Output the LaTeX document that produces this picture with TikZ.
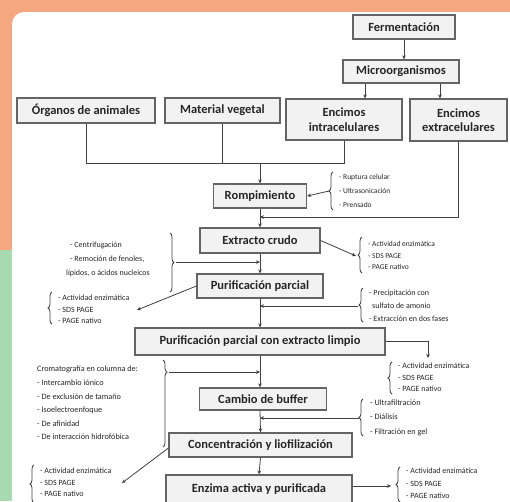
\documentclass[tikz,border=0pt]{standalone}
\usepackage{fontspec}
\setmainfont{Carlito}
\usetikzlibrary{arrows.meta,decorations.pathreplacing,calc}
\definecolor{bgor}{RGB}{245,168,128}
\definecolor{bggr}{RGB}{168,218,178}
\definecolor{boxfill}{RGB}{242,242,242}
\definecolor{boxline}{RGB}{100,100,100}
\definecolor{lnc}{RGB}{64,64,64}
\definecolor{txt}{RGB}{38,38,38}
\newcommand\bx[6]{\node[box,minimum width=#4pt,minimum height=#5pt] (#1) at (#2,#3) {#6};}
\begin{document}
\begin{tikzpicture}[x=1pt,y=-1pt,
 box/.style={draw=boxline, fill=boxfill, line width=1.2pt, font=\fontsize{12.5}{14.5}\selectfont\bfseries, text=txt, align=center, inner sep=1pt},
 arr/.style={draw=lnc, line width=0.8pt, -{Stealth[length=4pt,width=3.6pt]}},
 lnk/.style={draw=lnc, line width=0.8pt},
 brc/.style={draw=lnc, line width=0.8pt, decorate, decoration={brace, amplitude=4pt}},
 lst/.style={anchor=west, align=left, inner sep=0pt, text=txt}]
\useasboundingbox (0,0) rectangle (510,501);
\clip (0,0) rectangle (510,501);
\fill[bgor] (0,0) rectangle (510,250);
\fill[bggr] (0,250) rectangle (510,501);
\fill[white, rounded corners=12pt] (12,12) rectangle (530,540);

% boxes
\bx{ferm}{404}{27}{102}{24}{Fermentación}
\bx{micro}{401}{71.5}{116}{23}{Microorganismos}
\bx{organos}{86}{110.5}{138}{25}{Órganos de animales}
\bx{vegetal}{222.5}{110.5}{115}{25}{Material vegetal}
\bx{intra}{344}{119.5}{116}{41}{Encimos\\intracelulares}
\bx{extra}{458.5}{120}{97}{42}{Encimos\\extracelulares}
\bx{romp}{260}{196}{93}{24}{Rompimiento}
\bx{crudo}{260}{240.5}{120}{25}{Extracto crudo}
\bx{parcial}{260}{286}{126}{24}{Purificación parcial}
\bx{limpio}{260}{341.5}{250}{27}{Purificación parcial con extracto limpio}
\bx{buffer}{263}{399}{127}{22}{Cambio de buffer}
\bx{conc}{260.5}{445}{183}{24}{Concentración y liofilización}
\bx{enzima}{259}{489}{186}{28}{Enzima activa y purificada}

% top connectors
\draw[arr] (ferm.south) -- (ferm.south |- micro.north);
\draw[arr] ([xshift=-36pt]micro.south) -- ([xshift=21pt]intra.north);
\draw[arr] ([xshift=39pt]micro.south) -- ([xshift=-18.5pt]extra.north);
\coordinate (j1) at (260,163);
\draw[lnk] (organos.south) |- (intra.south |- j1) -- (intra.south);
\draw[lnk] (vegetal.south) -- (vegetal.south |- j1);
\draw[arr] (j1) -- (romp.north);
\coordinate (j2) at (260,217);
\draw[arr] (extra.south) |- (j2);
\draw[arr] (romp.south) -- (crudo.north);

% Rompimiento list
\draw[brc] (333,210) -- (333,172);
\node[lst, font=\fontsize{7.5}{14}\selectfont] (lromp) at (339,191) {- Ruptura celular\\- Ultrasonicación\\- Prensado};
\coordinate (b1) at (329,191);
\draw[arr] (b1) -- (romp.east);

% Extracto crudo left
\draw[brc] (170,233) -- (170,292);
\node[lst, font=\fontsize{8}{14}\selectfont] (lcrudoL) at (66,259) {\hspace*{4pt}- Centrifugación\\\hspace*{4pt}- Remoción de fenoles,\\lípidos, o ácidos nucleicos};
\coordinate (b2) at (176,262);
\coordinate (s2) at (260,262);
\draw[arr] (b2) -- (s2);
\draw[arr] (crudo.south) -- (parcial.north);

% Extracto crudo right
\draw[brc] (362,273) -- (362,237);
\node[lst, font=\fontsize{7.5}{11.5}\selectfont] (lcrudoR) at (368,255.5) {- Actividad enzimática\\- SDS PAGE\\- PAGE nativo};
\coordinate (c1) at (356,256);
\draw[arr] (crudo.east) -- (c1);

% Purificacion parcial left
\draw[brc] (52,324) -- (52,292);
\node[lst, font=\fontsize{8}{11.5}\selectfont] (lparL) at (58,309.5) {- Actividad enzimática\\- SDS PAGE\\- PAGE nativo};
\coordinate (c2) at (137,310);
\draw[arr] (parcial.west) -- (c2);

% Purificacion parcial right
\draw[brc] (363,322) -- (363,288);
\node[lst, font=\fontsize{8}{13}\selectfont] (lparR) at (369,306) {- Precipitación con\\\hspace*{3pt}sulfato de amonio\\- Extracción en dos fases};
\coordinate (b3) at (358,306);
\coordinate (s3) at (260,306);
\draw[arr] (b3) -- (s3);
\draw[arr] (parcial.south) -- (limpio.north);

% limpio right
\coordinate (k1) at (428,341.5);
\coordinate (c3) at (428,358);
\draw[arr] (limpio.east) -- (k1) -- (c3);
\draw[brc] (392,394) -- (392,362);
\node[lst, font=\fontsize{8}{11.5}\selectfont] (llimR) at (398,377.5) {- Actividad enzimática\\- SDS PAGE\\- PAGE nativo};

% chromatography left
\draw[brc, decoration={brace, amplitude=4pt, aspect=0.14}] (163,360) -- (163,447);
\node[lst, font=\fontsize{8.2}{13.6}\selectfont] (lchrom) at (37,403) {Cromatografía en columna de:\\- Intercambio iónico\\- De exclusión de tamaño\\- Isoelectroenfoque\\- De afinidad\\- De interacción hidrofóbica};
\coordinate (b4) at (169,372);
\coordinate (s4) at (260,372);
\draw[arr] (b4) -- (s4);
\draw[arr] (limpio.south) -- (limpio.south |- buffer.north);

% buffer right
\draw[brc] (363,436) -- (363,399);
\node[lst, font=\fontsize{8.2}{14.5}\selectfont] (lbuf) at (370,417.5) {- Ultrafiltración\\- Diálisis\\- Filtración en gel};
\coordinate (b5) at (359,418);
\coordinate (s5) at (260,418);
\draw[arr] (b5) -- (s5);
\draw[arr] (limpio.south |- buffer.south) -- (conc.north);

% concentracion left-bottom
\coordinate (c4) at (122,483);
\draw[arr] ([yshift=-3pt]conc.west) -- (c4);
\draw[brc] (34,503) -- (34,465);
\node[lst, font=\fontsize{8}{11.5}\selectfont] (lconc) at (40,482.5) {- Actividad enzimática\\- SDS PAGE\\- PAGE nativo};
\draw[arr] (conc.south) -- (enzima.north);

% enzima right
\coordinate (c5) at (391,486);
\draw[arr] (enzima.east |- c5) -- (c5);
\draw[brc] (400,502) -- (400,467);
\node[lst, font=\fontsize{8}{12.3}\selectfont] (lenz) at (406,483.5) {- Actividad enzimática\\- SDS PAGE\\- PAGE nativo};
\end{tikzpicture}
\end{document}
